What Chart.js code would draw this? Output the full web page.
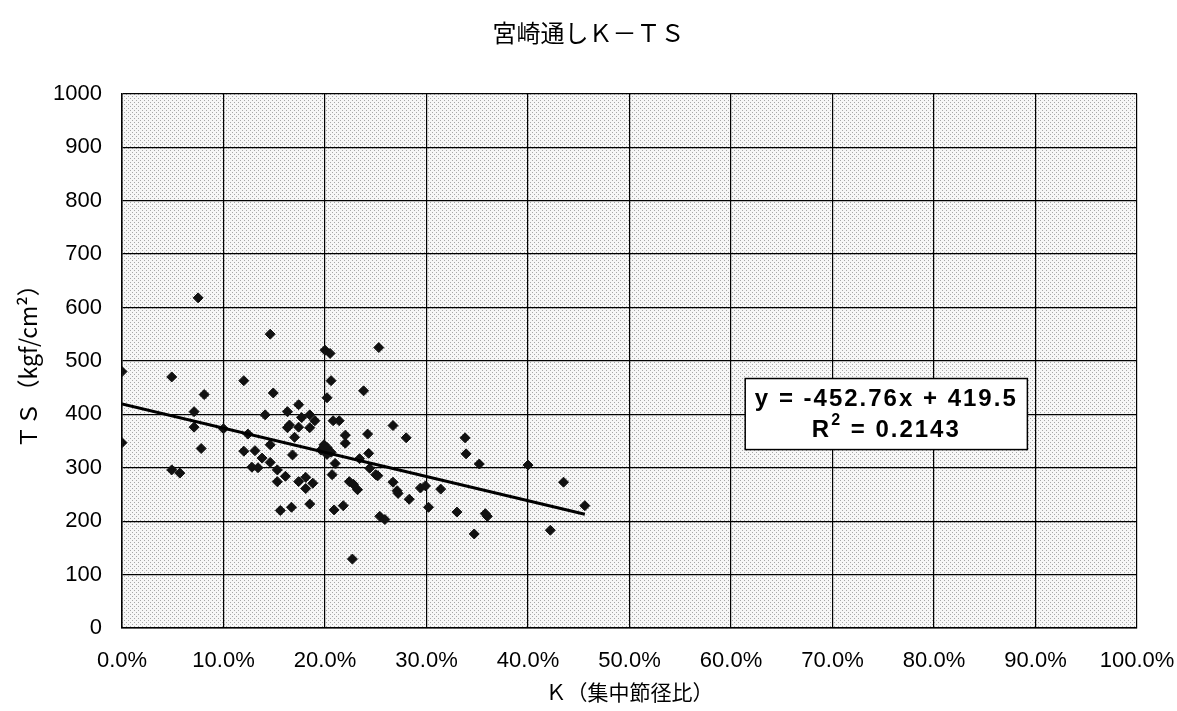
<!DOCTYPE html>
<html lang="ja">
<head>
<meta charset="utf-8">
<title>宮崎通しK-TS</title>
<script src="https://cdn.jsdelivr.net/npm/chart.js@4.4.1/dist/chart.umd.min.js"></script>
<style>
  html, body { margin: 0; padding: 0; background: #fff; }
  #wrap { width: 1177px; height: 711px; }
</style>
</head>
<body>
<div id="wrap"><canvas id="chart" width="1177" height="711"></canvas></div>
<script>
// K (集中節径比) as a fraction, TS in kgf/cm2
const kValues = [
  0.075, 0.146, 0.000, 0.049, 0.120, 0.081, 0.149, 0.174, 0.071, 0.141,
  0.163, 0.177, 0.185, 0.190, 0.071, 0.100, 0.124, 0.163, 0.165, 0.174,
  0.185, 0.170, 0.000, 0.078, 0.120, 0.131, 0.146, 0.168, 0.138, 0.146,
  0.128, 0.134, 0.153, 0.153, 0.161, 0.174, 0.181, 0.181, 0.185, 0.167,
  0.156, 0.049, 0.057, 0.200, 0.205, 0.253, 0.206, 0.238, 0.202, 0.208,
  0.214, 0.267, 0.220, 0.242, 0.280, 0.338, 0.220, 0.339, 0.352, 0.400,
  0.199, 0.202, 0.206, 0.196, 0.202, 0.210, 0.234, 0.243, 0.244, 0.250,
  0.252, 0.207, 0.188, 0.224, 0.228, 0.232, 0.267, 0.271, 0.272, 0.283,
  0.294, 0.299, 0.314, 0.302, 0.209, 0.218, 0.254, 0.259, 0.330, 0.358,
  0.360, 0.347, 0.422, 0.435, 0.456, 0.227
];
const tsValues = [
  618, 550, 480, 470, 463, 437, 440, 418, 405, 399,
  405, 394, 399, 388, 376, 373, 363, 375, 380, 376,
  375, 357, 347, 336, 331, 332, 343, 324, 318, 310,
  301, 300, 296, 274, 284, 274, 282, 261, 232, 226,
  220, 296, 290, 520, 514, 525, 463, 444, 431, 388,
  388, 379, 361, 363, 356, 356, 346, 326, 307, 305,
  343, 338, 329, 333, 325, 308, 317, 327, 299, 287,
  285, 287, 271, 274, 269, 259, 273, 257, 252, 241,
  262, 266, 260, 226, 221, 229, 209, 203, 217, 214,
  209, 176, 183, 273, 229, 129
];

// linear trend line shown in the box
const slope = -452.76;
const intercept = 419.5;
const rSquared = 0.2143;

const xTicks = [0, 0.1, 0.2, 0.3, 0.4, 0.5, 0.6, 0.7, 0.8, 0.9, 1.0];
const yTicks = [0, 100, 200, 300, 400, 500, 600, 700, 800, 900, 1000];

const points = kValues.map((k, i) => ({ x: k, y: tsValues[i] }));
const kMin = Math.min(...kValues);
const kMax = Math.max(...kValues);
const trend = [
  { x: kMin, y: intercept + slope * kMin },
  { x: kMax, y: intercept + slope * kMax }
];

// stippled plot background
function makeStipple() {
  const c = document.createElement("canvas");
  c.width = 4; c.height = 4;
  const g = c.getContext("2d");
  g.fillStyle = "#f7f7f7";
  g.fillRect(0, 0, 4, 4);
  g.fillStyle = "#a8a8a8";
  g.fillRect(0, 0, 1, 1);
  g.fillRect(2, 2, 1, 1);
  return c;
}

const stipplePlugin = {
  id: "stipple",
  beforeDraw(chart) {
    const { ctx, chartArea: a } = chart;
    ctx.save();
    ctx.fillStyle = ctx.createPattern(makeStipple(), "repeat");
    ctx.fillRect(a.left, a.top, a.right - a.left, a.bottom - a.top);
    ctx.restore();
  }
};

const boxFont = "bold 24px 'Liberation Sans', Arial, sans-serif";
const supFont = "bold 16px 'Liberation Sans', Arial, sans-serif";

const equationPlugin = {
  id: "equationBox",
  afterDatasetsDraw(chart) {
    const { ctx } = chart;
    const xs = chart.scales.x, ys = chart.scales.y;
    const left = xs.getPixelForValue(0.614);
    const right = xs.getPixelForValue(0.892);
    const top = ys.getPixelForValue(467);
    const bottom = ys.getPixelForValue(334);
    const cx = (left + right) / 2;
    ctx.save();
    ctx.fillStyle = "#fff";
    ctx.fillRect(left, top, right - left, bottom - top);
    ctx.strokeStyle = "#000";
    ctx.lineWidth = 1.5;
    ctx.strokeRect(left, top, right - left, bottom - top);

    ctx.fillStyle = "#000";
    ctx.letterSpacing = "2px";
    ctx.font = boxFont;
    ctx.textAlign = "center";
    ctx.textBaseline = "middle";
    const line1 = "y = " + slope.toFixed(2) + "x + " + intercept;
    ctx.fillText(line1, cx, top + 21);

    // R² line with a raised small 2
    const rest = " = " + rSquared.toFixed(4);
    ctx.textAlign = "left";
    const wR = ctx.measureText("R").width;
    const wRest = ctx.measureText(rest).width;
    ctx.font = supFont;
    const w2 = ctx.measureText("2").width;
    const x0 = cx - (wR + w2 + wRest) / 2;
    const y2 = top + 52;
    ctx.font = boxFont;
    ctx.fillText("R", x0, y2);
    ctx.font = supFont;
    ctx.fillText("2", x0 + wR, y2 - 10);
    ctx.font = boxFont;
    ctx.fillText(rest, x0 + wR + w2, y2);
    ctx.restore();
  }
};

const tickFont = { family: "'Liberation Sans', Arial, sans-serif", size: 22 };

const ctx = document.getElementById("chart").getContext("2d");

const chart = new Chart(ctx, {
  data: {
    datasets: [
      {
        type: "scatter",
        label: "TS",
        data: points,
        pointStyle: "rectRot",
        pointRadius: 5,
        backgroundColor: "#111",
        borderColor: "#111",
        borderWidth: 1,
        order: 2
      },
      {
        type: "line",
        label: "線形近似",
        data: trend,
        borderColor: "#000",
        borderWidth: 3,
        pointRadius: 0,
        fill: false,
        order: 1
      }
    ]
  },
  options: {
    responsive: false,
    animation: false,
    layout: { padding: 0 },
    plugins: {
      legend: { display: false },
      tooltip: { enabled: false },
      title: {
        display: true,
        text: "宮崎通しＫ－ＴＳ",
        color: "#000",
        font: { family: "'Noto Sans CJK JP', sans-serif", size: 24, weight: "normal" },
        padding: { top: 18, bottom: 47 }
      }
    },
    scales: {
      x: {
        type: "linear",
        min: 0,
        max: 1,
        afterBuildTicks: (s) => { s.ticks = xTicks.map(v => ({ value: v })); },
        afterFit: (s) => {
          s.height = 83;
          s.paddingLeft = 0;
          s.paddingRight = 40;
        },
        ticks: {
          color: "#000",
          font: tickFont,
          padding: 20,
          maxRotation: 0,
          callback: (v) => (v * 100).toFixed(1) + "%"
        },
        grid: { color: "#000", lineWidth: 1.2, drawTicks: false },
        border: { color: "#000", width: 1.5 },
        title: {
          display: true,
          text: "Ｋ（集中節径比）",
          color: "#000",
          font: { family: "'Noto Sans CJK JP', sans-serif", size: 21 },
          padding: { top: 0, bottom: 6 }
        }
      },
      y: {
        type: "linear",
        min: 0,
        max: 1000,
        afterBuildTicks: (s) => { s.ticks = yTicks.map(v => ({ value: v })); },
        afterFit: (s) => { s.width = 122; },
        ticks: {
          color: "#000",
          font: tickFont,
          padding: 20,
          callback: (v) => String(v)
        },
        grid: { color: "#000", lineWidth: 1.2, drawTicks: false },
        border: { color: "#000", width: 1.5 },
        title: {
          display: true,
          text: "ＴＳ（kgf/cm²）",
          color: "#000",
          font: { family: "'Noto Sans CJK JP', sans-serif", size: 23 },
          padding: { top: 14, bottom: 0 }
        }
      }
    }
  },
  plugins: [stipplePlugin, equationPlugin]
});
</script>
</body>
</html>
